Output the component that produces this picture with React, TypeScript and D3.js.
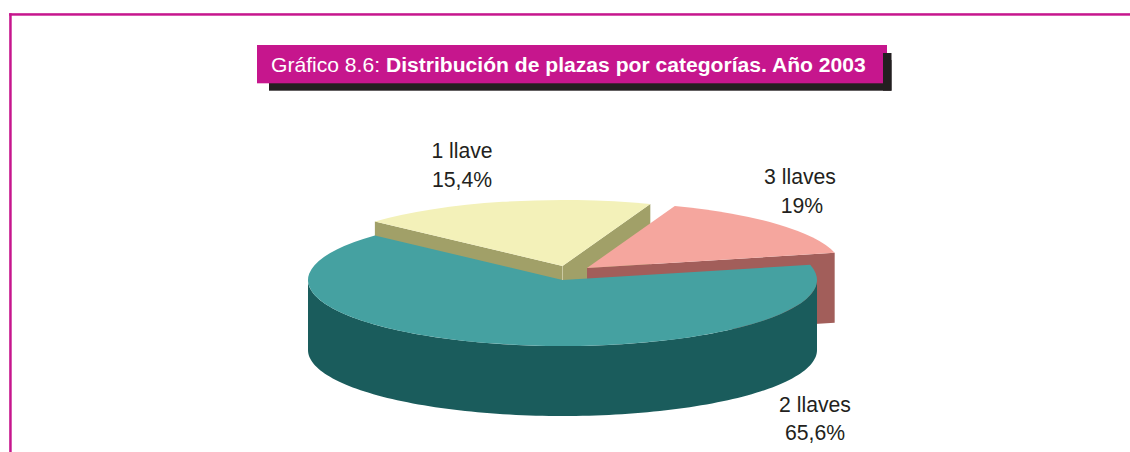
import React from "react";
import * as d3 from "d3";

const titlePrefix = "Gráfico 8.6: ";
const titleBold = "Distribución de plazas por categorías. Año 2003";
const sliceNames = ["2 llaves", "1 llave", "3 llaves"];
// Printed labels, as they stand in the source
const sliceLabels = ["65,6%", "15,4%", "19%"];
// Angular share actually drawn by each slice in the source
const sliceShares = [65.5, 18.8, 15.7];
const topColors = ["#45A1A1", "#F3F1B9", "#F5A69E"];
const wallColors = ["#1A5C5C", "#A1A068", "#A25E5A"];
const sliceOffsets = [[0, 0], [0, -14], [24.5, -12]];
const labelPositions = [[815, 412, 440], [462, 158, 187], [800, 184, 213]];

const W = 1130, H = 452;
const CX = 562.5, CY = 280, RX = 254.5, RY = 66, DEPTH = 70;
const MAGENTA = "#C6168D", DARK = "#231F20";
const FONT = "'Liberation Sans', Arial, sans-serif";

const pie = d3.pie<number>().sort(null)
  .startAngle((76.7 * Math.PI) / 180)
  .endAngle((76.7 * Math.PI) / 180 + 2 * Math.PI);
const arcs = pie(sliceShares);
const arcGen = d3.arc<d3.PieArcDatum<number>>().innerRadius(0).outerRadius(RX);

// point on the tilted rim for a d3 pie angle
const rim = (a: number, i: number, dy = 0): [number, number] => [
  CX + sliceOffsets[i][0] + RX * Math.sin(a),
  CY + sliceOffsets[i][1] - RY * Math.cos(a) + dy,
];
const centre = (i: number, dy = 0): [number, number] => [
  CX + sliceOffsets[i][0],
  CY + sliceOffsets[i][1] + dy,
];
const poly = d3.line();

// extruded face from the slice's centre to its rim at angle a
const cutFace = (a: number, i: number) =>
  poly([centre(i), rim(a, i), rim(a, i, DEPTH), centre(i, DEPTH)]) + "Z";

// outer cylinder wall of the front half of the big slice
const outerWall = (i: number) => {
  const a0 = Math.PI / 2, a1 = (3 * Math.PI) / 2;
  const angles = d3.range(0, 121).map((k) => a0 + ((a1 - a0) * k) / 120);
  const top = angles.map((a) => rim(a, i));
  const bottom = angles.slice().reverse().map((a) => rim(a, i, DEPTH));
  return poly([...top, ...bottom]) + "Z";
};

const Top = ({ i }: { i: number }) => (
  <path
    d={arcGen(arcs[i]) as string}
    fill={topColors[i]}
    transform={`translate(${centre(i)[0]},${centre(i)[1]}) scale(1,${RY / RX})`}
  />
);

export default function App() {
  return (
    <svg
      width={W}
      height={H}
      viewBox={`0 0 ${W} ${H}`}
      style={{ position: "absolute", left: 0, top: 0, background: "#fff" }}
      fontFamily={FONT}
    >
      {/* frame */}
      <rect x={9.2} y={13.2} width={W} height={2.5} fill={MAGENTA} />
      <rect x={9.2} y={13.2} width={2.5} height={H} fill={MAGENTA} />

      {/* title banner */}
      <rect x={269} y={60} width={622.5} height={30.7} fill={DARK} />
      <rect x={257} y={45} width={630} height={38.3} fill={MAGENTA} />
      <rect x={883} y={53} width={8.5} height={37.7} fill={DARK} />
      <text x={271} y={72} fontSize={21.1} fill="#fff">
        {titlePrefix}
        <tspan fontWeight="bold">{titleBold}</tspan>
      </text>

      {/* yellow slice */}
      <path d={cutFace(arcs[1].startAngle, 1)} fill={wallColors[1]} />
      <path d={cutFace(arcs[1].endAngle, 1)} fill={wallColors[1]} />
      <Top i={1} />
      <line x1={centre(1)[0]} x2={centre(1)[0]} y1={centre(1)[1]} y2={centre(1)[1] + 14}
        stroke="#CFCEA6" strokeWidth={0.8} />

      {/* pink slice */}
      <path d={cutFace(arcs[2].endAngle, 2)} fill={wallColors[2]} />
      <Top i={2} />

      {/* teal slice */}
      <path d={outerWall(0)} fill={wallColors[0]} />
      <Top i={0} />

      {/* labels */}
      {sliceNames.map((name, i) => (
        <g key={name} fontSize={21.2} fill={DARK} textAnchor="middle">
          <text x={labelPositions[i][0]} y={labelPositions[i][1]}>{name}</text>
          <text x={labelPositions[i][0] + (i === 2 ? 2 : 0)} y={labelPositions[i][2]}>{sliceLabels[i]}</text>
        </g>
      ))}
    </svg>
  );
}
